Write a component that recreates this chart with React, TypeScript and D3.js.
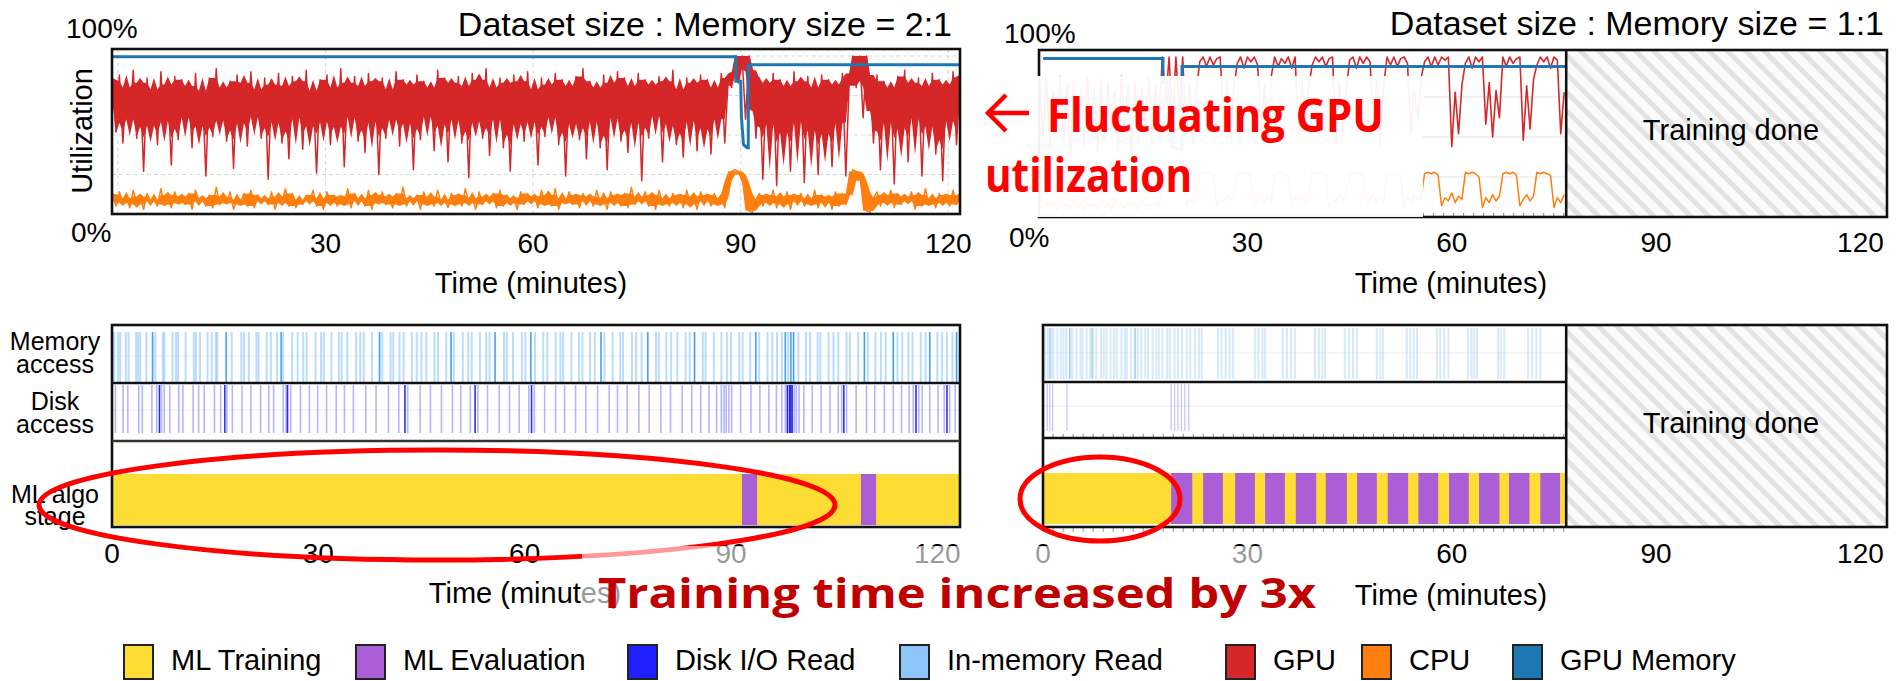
import React from 'react';
import * as d3 from 'd3';

// ---------- data (minutes / percent) ----------
const tickMinutes = [0, 30, 60, 90, 120];
const sampleStep = 0.5;

// Dataset : Memory = 2:1 run, samples every 0.5 min starting at -0.8
const start21 = -0.8;
const gpu21 = [
  84, 52, 88, 45, 80, 55, 91, 48, 83, 27, 86, 50, 79, 44, 90, 53, 82, 31, 87, 47,
  85, 56, 81, 42, 89, 50, 78, 24, 86, 49, 92, 54, 80, 46, 84, 29, 88, 51, 83, 43,
  90, 57, 79, 48, 86, 22, 82, 52, 89, 45, 81, 35, 87, 55, 84, 41, 91, 50, 78, 26,
  85, 53, 88, 44, 80, 49, 92, 30, 83, 56, 87, 46, 81, 39, 89, 52, 84, 25, 86, 48,
  79, 55, 90, 43, 85, 51, 82, 28, 88, 47, 84, 57, 80, 40, 91, 50, 86, 33, 83, 54,
  87, 45, 81, 23, 89, 52, 85, 48, 92, 37, 80, 55, 86, 42, 83, 27, 88, 50, 84, 46,
  90, 53, 79, 31, 86, 49, 82, 56, 89, 44, 85, 24, 81, 51, 87, 47, 92, 35, 84, 53,
  80, 42, 88, 28, 83, 55, 90, 46, 86, 39, 81, 52, 89, 21, 85, 48, 82, 57, 87, 33,
  84, 50, 91, 44, 79, 36, 86, 53, 83, 40, 88, 47, 85, 38, 80, 55, 89, 45, 86, 80,
  100, 90, 100, 60, 100, 91,
  48, 86, 22, 83, 50, 89, 18, 85, 44, 81, 27, 90, 52, 84, 20, 87, 46, 80, 25, 88,
  43, 85, 30, 82, 51, 89, 24, 86,
  100, 80, 100, 61, 100, 82,
  45, 88, 28, 84, 52, 80, 19, 87, 47, 91, 33, 83, 55, 86, 24, 81, 49, 89, 38, 85,
  21, 82, 53, 90, 44, 86,
];
const cpu21 = [
  12, 5, 14, 7, 10, 4, 15, 6, 11, 3, 13, 8, 9, 5, 16, 6, 12, 4, 14, 7,
  11, 6, 13, 3, 15, 8, 10, 5, 12, 4, 17, 6, 11, 7, 14, 3, 9, 6, 13, 5,
  15, 4, 12, 8, 10, 6, 14, 3, 11, 7, 16, 5, 13, 4, 9, 6, 12, 8, 15, 5,
  10, 3, 14, 7, 12, 5, 11, 6, 16, 4, 13, 8, 10, 5, 15, 3, 12, 7, 14, 6,
  11, 4, 13, 6, 17, 5, 10, 8, 12, 3, 14, 6, 11, 5, 15, 7, 9, 4, 13, 6,
  12, 5, 16, 7, 10, 3, 14, 6, 11, 8, 13, 4, 15, 5, 12, 7, 10, 3, 14, 6,
  13, 8, 11, 4, 15, 6, 12, 5, 16, 3, 10, 7, 14, 6, 12, 4, 13, 8, 11, 5,
  15, 6, 10, 3, 14, 7, 12, 5, 13, 4, 17, 6, 11, 8, 14, 5, 12, 3, 15, 6,
  10, 5, 13, 7, 12, 4, 15, 6, 11, 3, 14, 8, 12, 5, 13, 6, 10, 4,
  21, 27, 28, 27, 25, 20, 2, 1,
  9, 13, 5, 12, 7, 15, 4, 11, 6, 14, 3, 12, 8, 13, 5, 10, 6, 15, 4, 12,
  7, 11, 3, 14, 5, 13, 6, 12,
  28, 27, 26, 21, 2, 1,
  10, 14, 5, 12, 7, 15, 4, 13, 6, 11, 8, 14, 3, 12, 5, 16, 6, 10, 4, 13,
  7, 12, 5, 15, 6, 11,
];
const gpuMem21: [number, number][] = [
  [-0.87, 99.5], [89.3, 99.5], [89.3, 84], [90.0, 84], [90.1, 62], [90.4, 44],
  [90.9, 42], [91.1, 42], [91.1, 94.5], [121.7, 94.5],
];
const memRead21 = [
  0.3, 0.9, 1.2, 2.0, 2.4, 3.5, 3.8, 4.1, 5.0, 5.9, 6.3, 7.4, 7.6, 8.8, 9.3, 9.6, 10.7, 11.9, 12.2, 12.8,
  13.9, 14.5, 15.1, 15.3, 16.6, 17.4, 18.8, 19.2, 19.9, 21.0, 21.3, 22.5, 23.1, 24.0, 24.6, 24.9, 26.2, 27.0,
  27.8, 28.3, 29.6, 30.4, 30.8, 31.9, 33.0, 33.4, 34.2, 35.5, 36.1, 36.6, 37.8, 38.9, 39.3, 40.5, 40.9, 41.8,
  42.4, 43.6, 44.3, 45.0, 45.7, 46.9, 47.4, 48.6, 49.3, 49.7, 51.0, 51.8, 52.3, 53.5, 54.4, 54.9, 55.7, 57.0,
  57.4, 58.3, 59.6, 60.1, 60.9, 61.5, 62.7, 63.3, 64.5, 65.2, 65.6, 66.8, 67.9, 68.4, 69.5, 70.2, 71.1, 71.6,
  72.8, 73.9, 74.3, 75.6, 76.2, 77.0, 77.9, 79.1, 79.5, 80.6, 81.3, 82.2, 83.4, 84.0, 84.7, 85.9, 86.3, 87.5,
  88.6, 89.4, 90.0, 91.2, 91.7, 92.8, 93.6, 94.1, 95.3, 96.0, 96.7, 97.4, 97.9, 98.3, 98.7, 99.1, 99.8, 100.9,
  101.5, 102.6, 103.0, 104.2, 104.9, 105.6, 106.8, 107.3, 108.5, 109.4, 109.9, 111.0, 111.8, 112.5, 113.6,
  114.2, 114.9, 115.8, 116.4, 117.6, 118.3, 118.9, 120.0, 120.7, 121.4, 122.2, 122.8,
];
const memStrong21 = [5.9, 16.6, 24.6, 38.9, 49.3, 55.7, 60.9, 71.1, 77.9, 84.7, 93.6, 97.9, 98.7, 99.1, 109.4, 113.6, 118.9, 122.8];
const diskRead21 = [
  0.5, 1.6, 2.3, 3.9, 4.4, 5.8, 6.5, 6.9, 7.2, 7.6, 8.4, 9.7, 10.3, 11.8, 12.6, 13.4, 14.9, 15.8, 16.4, 16.7,
  17.5, 18.9, 20.2, 21.6, 22.8, 23.5, 24.9, 25.3, 25.6, 26.0, 27.4, 28.7, 29.9, 31.2, 32.6, 33.8, 35.1, 36.9,
  38.4, 40.2, 41.7, 42.6, 43.0, 44.8, 46.3, 47.9, 49.5, 50.7, 52.1, 52.8, 53.2, 54.6, 56.3, 57.8, 59.2, 60.6,
  61.0, 61.4, 62.9, 64.5, 65.8, 67.4, 68.9, 70.6, 72.3, 73.5, 74.9, 76.6, 78.1, 79.8, 81.2, 82.9, 84.3, 85.6,
  86.8, 87.9, 88.6, 89.0, 89.3, 89.7, 90.1, 91.4, 92.9, 94.2, 95.5, 96.6, 97.4, 97.9, 98.2, 98.5, 98.7, 98.9,
  99.2, 99.5, 99.9, 100.6, 101.8, 103.1, 104.4, 105.6, 106.1, 106.4, 106.8, 108.2, 109.7, 110.9, 112.3, 113.6,
  114.8, 115.9, 116.5, 116.9, 117.3, 117.8, 118.9, 120.1, 121.0, 121.4, 121.8, 122.6,
];
const diskStrong21 = [6.9, 16.4, 25.5, 42.6, 52.8, 61.0, 98.2, 98.5, 98.7, 98.9, 106.4, 116.9, 121.4];
const trainSpan21: [number, number] = [0, 123.3];
const evalStart21 = [91.6, 108.9];
const evalEnd21 = [93.8, 111.1];

// Dataset : Memory = 1:1 run, samples every 0.5 min starting at -0.5
const start11 = -0.5;
const gpu11 = [
  82, 50, 86, 44, 79, 56, 88, 47, 83, 38, 85, 52, 80, 45, 87, 54, 81, 41, 86, 49,
  84, 57, 79, 43, 88, 51, 82, 36, 85, 48, 80, 55, 87, 46, 83, 58,
  100, 72, 100, 58, 100, 65, 100,
  52, 84, 46, 79,
  97, 100, 94, 100, 95, 99, 100, 62, 85, 48, 80,
  96, 100, 93, 100, 97, 100, 95, 55, 83, 47, 88,
  100, 94, 99, 96, 100, 93, 100, 50, 86, 58, 81,
  95, 100, 97, 100, 94, 99, 100, 46, 84, 53, 79,
  98, 100, 93, 100, 96, 100, 97, 57, 86, 45, 82,
  100, 95, 100, 94, 99, 100, 96, 52, 80, 60, 87,
  97, 100, 94, 100, 95, 100, 98, 100, 44, 78, 52, 83,
  96, 100, 93, 100, 97, 100, 58, 84, 50, 79, 62,
  100, 94, 100, 96, 99, 100, 48, 82, 55, 86,
  95, 100, 97, 100, 93, 100, 98, 52, 78,
];
const cpu11 = [
  8, 5, 10, 6, 9, 4, 11, 7, 8, 5, 12, 6, 9, 4, 10, 7, 8, 5, 11, 6,
  9, 4, 12, 7, 8, 5, 10, 6, 9, 4, 11, 7, 8, 5, 10, 6,
  20, 27, 28, 27, 28, 26, 27,
  6, 11, 9, 13,
  27, 28, 27, 28, 26, 7, 12, 9, 14, 10, 13,
  28, 27, 28, 27, 26, 6, 11, 14, 9, 13, 10,
  27, 28, 28, 27, 25, 7, 13, 10, 14, 9, 12,
  28, 27, 28, 27, 26, 6, 12, 9, 15, 10, 13,
  27, 28, 27, 28, 25, 7, 11, 14, 9, 13, 10,
  28, 27, 28, 27, 26, 6, 13, 9, 14, 11, 12,
  27, 28, 27, 28, 26, 7, 12, 10, 15, 9, 13, 11,
  28, 27, 28, 27, 25, 6, 12, 9, 14, 10, 13,
  27, 28, 27, 28, 26, 7, 11, 14, 10, 13,
  28, 27, 28, 27, 26, 6, 12, 9, 14,
];
const gpuMem11: [number, number][] = [
  [0, 99], [17.6, 99], [17.6, 84], [18.4, 84], [18.5, 62], [18.9, 44], [20.4, 42], [20.4, 94], [76.8, 94],
];
const memRead11 = [
  0.3, 0.7, 1.2, 1.5, 2.1, 2.6, 3.0, 3.4, 4.0, 4.3, 4.9, 5.5, 5.8, 6.4, 6.9, 7.3, 7.8, 8.5, 8.9, 9.3,
  9.9, 10.4, 10.8, 11.5, 12.0, 12.3, 12.9, 13.5, 13.9, 14.4, 15.0, 15.4, 16.1, 16.6, 17.0, 17.5, 18.2, 18.6,
  19.3, 19.8, 20.4, 21.1, 21.6, 22.3, 22.9, 23.3,
  25.7, 26.2, 26.8, 27.4, 27.9, 31.1, 31.6, 32.2, 32.6, 35.2, 35.8, 36.4, 37.0, 39.9, 40.5, 41.0, 41.4,
  44.3, 44.9, 45.5, 46.1, 49.0, 49.5, 49.9, 53.4, 53.9, 54.4, 54.9, 57.8, 58.3, 58.9, 59.5,
  62.4, 62.9, 63.3, 63.7, 66.8, 67.2, 67.7, 71.2, 71.8, 72.4, 73.0,
];
const memStrong11 = [1.0, 3.9, 7.2, 13.5];
const diskRead11 = [0.6, 1.0, 1.4, 3.5, 18.8, 19.3, 19.8, 20.3, 20.8, 21.4];
const trainEnd11 = 76.8;
const evalStart11 = [18.8, 23.5, 28.2, 32.6, 37.1, 41.5, 46.1, 50.6, 55.1, 59.6, 64.0, 68.4, 73.0];
const evalEnd11 = [21.9, 26.4, 31.1, 35.5, 40.1, 44.6, 49.0, 53.6, 58.0, 62.5, 67.0, 71.4, 75.9];

const legendLabels = ['ML Training', 'ML Evaluation', 'Disk I/O Read', 'In-memory Read', 'GPU', 'CPU', 'GPU Memory'];

// ---------- styles ----------
const YELLOW = '#fddc34';
const PURPLE = '#aa5fd6';
const DISK = '#1f1fff';
const MEM = '#8dc4fa';
const GPU = '#d62728';
const CPU = '#ff7f0e';
const GMEM = '#1f77b4';
const legendColors = [YELLOW, PURPLE, DISK, MEM, GPU, CPU, GMEM];
const legendX = [124, 356, 628, 900, 1226, 1362, 1513];

const SANS = '"Liberation Sans", Arial, sans-serif';
const BOLD = '"Open Sans", "Noto Sans", sans-serif';
const BORDER = '#111';

function Txt(props: any) {
  const { x, y, s, anchor = 'start', w, fill = '#000', fam = SANS, weight = 400, transform, children } = props;
  return (
    <text x={x} y={y} fontSize={s} textAnchor={anchor} fill={fill} fontFamily={fam} fontWeight={weight}
      textLength={w} lengthAdjust={w ? 'spacingAndGlyphs' : undefined} transform={transform}>
      {children}
    </text>
  );
}

// dense core of a noisy series: rolling quartiles over a small window
function coreBand(arr: number[], lo: number, hi: number, half = 2): [number, number][] {
  return arr.map((_, i) => {
    const w = arr.slice(Math.max(0, i - half), i + half + 1).sort((a, b) => a - b);
    return [d3.quantileSorted(w, lo) as number, d3.quantileSorted(w, hi) as number];
  });
}

export default function App() {
  // scales
  const xTL = d3.scaleLinear().domain([-0.87, 121.7]).range([112, 960]);
  const yTL = d3.scaleLinear().domain([0, 100]).range([214, 56]);
  const xTR = d3.scaleLinear().domain([-0.6, 123.9]).range([1039, 1887]);
  const yTR = d3.scaleLinear().domain([0, 100]).range([217, 57]);
  const xBL = d3.scaleLinear().domain([0, 123.3]).range([112, 960]);
  const xBR = xTR;

  const t21 = (i: number) => xTL(start21 + i * sampleStep);
  const line21 = d3.line<number>().x((_, i) => t21(i)).y((d) => yTL(d));
  const area21 = d3.area<[number, number]>().x((_, i) => t21(i)).y0((d) => yTL(d[0])).y1((d) => yTL(d[1]));
  const line11 = d3.line<number>().x((_, i) => xTR(start11 + i * sampleStep)).y((d) => yTR(d));
  const memLine21 = d3.line<[number, number]>().x((d) => xTL(d[0])).y((d) => yTL(d[1]));
  const memLine11 = d3.line<[number, number]>().x((d) => xTR(d[0])).y((d) => yTR(d[1]));

  const gpuCore = coreBand(gpu21, 0.3, 0.75);
  const cpuCore = coreBand(cpu21, 0.25, 0.75);

  const events = (arr: number[], x: any, y1: number, y2: number, color: string, op: number, w: number, key: string) =>
    arr.map((t, i) => (
      <line key={key + i} x1={x(t)} x2={x(t)} y1={y1} y2={y2} stroke={color} strokeOpacity={op} strokeWidth={w} />
    ));

  const minorTicks = d3.range(0, trainEnd11, 1.47);
  const trEnd = xTR(trainEnd11);

  return (
    <svg width={1904} height={681} style={{ position: 'absolute', left: 0, top: 0, background: '#fff' }}>
      <defs>
        <pattern id="hatch" width={13} height={13} patternUnits="userSpaceOnUse" patternTransform="rotate(-45)">
          <rect width={13} height={13} fill="#fbfbfb" />
          <rect width={5} height={13} fill="#e3e3e3" />
        </pattern>
        <clipPath id="clipTL"><rect x={112} y={49} width={848} height={165} /></clipPath>
        <clipPath id="clipTR"><rect x={1039} y={50} width={trEnd - 1039} height={167} /></clipPath>
      </defs>
      <rect width={1904} height={681} fill="#fff" />

      {/* ---------- top-left: utilization 2:1 ---------- */}
      {[25, 50, 75, 100].map((v) => (
        <line key={'gy' + v} x1={112} x2={960} y1={yTL(v)} y2={yTL(v)} stroke="#d8d8d8" strokeDasharray="4,3" />
      ))}
      {tickMinutes.map((v) => (
        <line key={'gx' + v} x1={xTL(v)} x2={xTL(v)} y1={49} y2={214} stroke="#d8d8d8" strokeDasharray="4,3" />
      ))}
      <g clipPath="url(#clipTL)">
        <path d={area21(gpuCore) || ''} fill={GPU} />
        <path d={line21(gpu21) || ''} fill="none" stroke={GPU} strokeWidth={1.5} strokeLinejoin="round" />
        <path d={area21(cpuCore) || ''} fill={CPU} />
        <path d={line21(cpu21) || ''} fill="none" stroke={CPU} strokeWidth={1.5} strokeLinejoin="round" />
        <path d={memLine21(gpuMem21) || ''} fill="none" stroke={GMEM} strokeWidth={3} />
      </g>
      <rect x={112} y={49} width={848} height={165} fill="none" stroke={BORDER} strokeWidth={2.6} />
      <Txt x={952} y={36} s={34} anchor="end">Dataset size : Memory size = 2:1</Txt>
      <Txt x={66} y={38} s={28}>100%</Txt>
      <Txt x={71} y={242} s={28}>0%</Txt>
      <Txt x={0} y={0} s={29} anchor="middle" transform="translate(92,131) rotate(-90)">Utilization</Txt>
      {tickMinutes.slice(1).map((v) => (
        <Txt key={'tl' + v} x={xTL(v)} y={253} s={28} anchor="middle">{v}</Txt>
      ))}
      <Txt x={531} y={293} s={29} anchor="middle">Time (minutes)</Txt>

      {/* ---------- top-right: utilization 1:1 ---------- */}
      {[25, 50, 75].map((v) => (
        <line key={'gyr' + v} x1={1039} x2={trEnd} y1={yTR(v)} y2={yTR(v)} stroke="#e4e4e4" strokeWidth={1.2} />
      ))}
      <g clipPath="url(#clipTR)">
        <path d={line11(gpu11) || ''} fill="none" stroke={GPU} strokeWidth={1.6} strokeLinejoin="round" />
        <path d={line11(cpu11) || ''} fill="none" stroke={CPU} strokeWidth={1.5} strokeLinejoin="round" />
        <path d={memLine11(gpuMem11) || ''} fill="none" stroke={GMEM} strokeWidth={3} />
      </g>
      {minorTicks.map((t, i) => (
        <line key={'mtr' + i} x1={xTR(t)} x2={xTR(t)} y1={217} y2={213} stroke="#888" strokeWidth={1} />
      ))}
      <rect x={trEnd} y={50} width={1887 - trEnd} height={167} fill="url(#hatch)" />
      <rect x={1039} y={50} width={848} height={167} fill="none" stroke={BORDER} strokeWidth={2.6} />
      <line x1={trEnd} x2={trEnd} y1={50} y2={217} stroke={BORDER} strokeWidth={2.6} />
      <Txt x={1731} y={140} s={29} anchor="middle">Training done</Txt>
      <Txt x={1884} y={35} s={34} anchor="end">Dataset size : Memory size = 1:1</Txt>
      <Txt x={1004} y={43} s={28}>100%</Txt>
      <Txt x={1009} y={247} s={28}>0%</Txt>
      {tickMinutes.slice(1).map((v) => (
        <Txt key={'tr' + v} x={xTR(v)} y={252} s={28} anchor="middle">{v}</Txt>
      ))}
      <Txt x={1451} y={293} s={29} anchor="middle">Time (minutes)</Txt>

      {/* annotation over the 1:1 chart */}
      <rect x={1037} y={76} width={386} height={141} fill="#fff" fillOpacity={0.94} />
      <path d="M1029,113 L989,113 M1006,95 L988,113 L1006,131" fill="none" stroke="#ff0000" strokeWidth={4.5} />
      <Txt x={1047} y={132} s={47} w={337} fam={BOLD} weight={700} fill="#ff0000">Fluctuating GPU</Txt>
      <Txt x={985} y={192} s={47} w={207} fam={BOLD} weight={700} fill="#ff0000">utilization</Txt>

      {/* ---------- bottom-left: access + stage 2:1 ---------- */}
      <line x1={112} x2={960} y1={356} y2={356} stroke="#ececec" />
      <line x1={112} x2={960} y1={410} y2={410} stroke="#ececec" />
      {events(memRead21, xBL, 332, 382, MEM, 0.6, 2, 'm21')}
      {events(memStrong21, xBL, 332, 382, '#3d98ee', 0.9, 1.4, 'ms21')}
      {events(diskRead21, xBL, 385, 433, '#5b5bff', 0.45, 1.6, 'd21')}
      {events(diskStrong21, xBL, 385, 433, '#1a1ae8', 0.9, 1.4, 'ds21')}
      <rect x={xBL(trainSpan21[0])} y={474} width={xBL(trainSpan21[1]) - xBL(trainSpan21[0])} height={51} fill={YELLOW} />
      {evalStart21.map((s, i) => (
        <rect key={'e21' + i} x={xBL(s)} y={474} width={xBL(evalEnd21[i]) - xBL(s)} height={51} fill={PURPLE} />
      ))}
      <rect x={112} y={325} width={848} height={202} fill="none" stroke={BORDER} strokeWidth={2.6} />
      <line x1={112} x2={960} y1={383} y2={383} stroke={BORDER} strokeWidth={2.6} />
      <line x1={112} x2={960} y1={441} y2={441} stroke="#333" strokeWidth={2.6} />
      <Txt x={55} y={350} s={25} anchor="middle">Memory</Txt>
      <Txt x={55} y={373} s={25} anchor="middle">access</Txt>
      <Txt x={55} y={410} s={25} anchor="middle">Disk</Txt>
      <Txt x={55} y={433} s={25} anchor="middle">access</Txt>
      <Txt x={55} y={503} s={25} anchor="middle">ML algo</Txt>
      <Txt x={55} y={525} s={25} anchor="middle">stage</Txt>
      {tickMinutes.map((v) => (
        <Txt key={'bl' + v} x={xBL(v)} y={563} s={28} anchor="middle">{v}</Txt>
      ))}
      <Txt x={525} y={603} s={29} anchor="middle">Time (minutes)</Txt>

      {/* ---------- bottom-right: access + stage 1:1 ---------- */}
      <line x1={1043} x2={trEnd} y1={353} y2={353} stroke="#ececec" />
      <line x1={1043} x2={trEnd} y1={406} y2={406} stroke="#ececec" />
      {events(memRead11, xBR, 328, 379, MEM, 0.35, 2, 'm11')}
      {events(memStrong11, xBR, 328, 379, '#7ab8f5', 0.7, 1.2, 'ms11')}
      {events(diskRead11, xBR, 384, 431, '#8080ff', 0.45, 1.3, 'd11')}
      <rect x={xBR(0)} y={473} width={xBR(trainEnd11) - xBR(0)} height={51} fill={YELLOW} />
      {evalStart11.map((s, i) => (
        <rect key={'e11' + i} x={xBR(s)} y={473} width={xBR(evalEnd11[i]) - xBR(s)} height={51} fill={PURPLE} />
      ))}
      {minorTicks.map((t, i) => (
        <g key={'mbr' + i}>
          <line x1={xBR(t)} x2={xBR(t)} y1={438} y2={434} stroke="#888" strokeWidth={1} />
          <line x1={xBR(t)} x2={xBR(t)} y1={527} y2={532} stroke="#999" strokeWidth={1} />
        </g>
      ))}
      <rect x={trEnd} y={325} width={1887 - trEnd} height={202} fill="url(#hatch)" />
      <rect x={1043} y={325} width={844} height={202} fill="none" stroke={BORDER} strokeWidth={2.6} />
      <line x1={1043} x2={trEnd} y1={382} y2={382} stroke={BORDER} strokeWidth={2.6} />
      <line x1={1043} x2={trEnd} y1={438} y2={438} stroke={BORDER} strokeWidth={2.6} />
      <line x1={trEnd} x2={trEnd} y1={325} y2={527} stroke={BORDER} strokeWidth={2.6} />
      <Txt x={1731} y={433} s={29} anchor="middle">Training done</Txt>
      {tickMinutes.map((v) => (
        <Txt key={'br' + v} x={xBR(v)} y={563} s={28} anchor="middle">{v}</Txt>
      ))}
      <Txt x={1451} y={605} s={29} anchor="middle">Time (minutes)</Txt>

      {/* ---------- annotations ---------- */}
      <ellipse cx={437} cy={505} rx={398} ry={55} fill="none" stroke="#ff0000" strokeWidth={5} />
      <ellipse cx={1100} cy={499} rx={80} ry={42} fill="none" stroke="#ff0000" strokeWidth={5} />
      <rect x={582} y={546} width={740} height={80} fill="#fff" fillOpacity={0.6} />
      <Txt x={598} y={608} s={42} w={718} fam={BOLD} weight={700} fill="#c00000">Training time increased by 3x</Txt>

      {/* ---------- legend ---------- */}
      {legendLabels.map((lab, i) => (
        <g key={'lg' + i}>
          <rect x={legendX[i]} y={645} width={29} height={34} fill={legendColors[i]} stroke="#222" strokeWidth={2} />
          <Txt x={legendX[i] + 47} y={670} s={29}>{lab}</Txt>
        </g>
      ))}
    </svg>
  );
}
